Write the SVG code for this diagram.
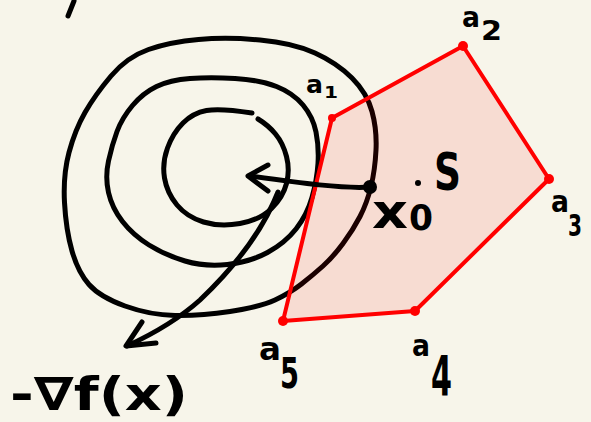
<svg xmlns="http://www.w3.org/2000/svg" width="591" height="422" viewBox="0 0 591 422">
<style>
.ink{fill:none;stroke:#000;stroke-width:5;stroke-linecap:round;stroke-linejoin:round}
.red{fill:none;stroke:#ff0000;stroke-width:4;stroke-linejoin:round}
.vtx{fill:#ff0000}
.lbl{font-family:"DejaVu Sans",sans-serif;font-weight:bold;fill:#000}
</style>
<rect width="591" height="422" fill="#f7f5ea"/>
<g id="fragment">
<path class="ink" d="M 74,1 L 68,16" stroke-width="6"/>
</g>
<g id="contours">
<path class="ink" d="M 148.5,49.5 Q 170,42 198.5,39.5 Q 227,37 260,40 Q 293,43 315,53 Q 337,63 352,78 Q 367,93 372,111.5 Q 377,130 376,150 Q 375,170 371,186.5 Q 367,203 360,216.5 Q 353,230 343,243.5 Q 333,257 323,266 Q 313,275 301.5,284 Q 290,293 275,300 Q 260,307 230,311.5 Q 200,316 175,315.5 Q 150,315 125,306 Q 100,297 89,284.5 Q 78,272 72,251 Q 66,230 64.5,202.5 Q 63,175 69,152.5 Q 75,130 85,112.5 Q 95,95 111,76 Q 127,57 148.5,49.5"/>
<path class="ink" d="M 190,78.5 Q 210,77 235,78.5 Q 260,80 276.5,86.5 Q 293,93 303,105 Q 313,117 316,132 Q 319,147 318,163.5 Q 317,180 312,197.5 Q 307,215 296,229 Q 285,243 267.5,252.5 Q 250,262 227.5,264.5 Q 205,267 185,261 Q 165,255 149,245 Q 133,235 122.5,221.5 Q 112,208 108.5,192.5 Q 105,177 108.5,161 Q 112,145 117,131.5 Q 122,118 132.5,105.5 Q 143,93 156.5,86.5 Q 170,80 190,78.5"/>
<path class="ink" d="M 252,113 Q 220,108 206.5,110.5 Q 193,113 183,123 Q 173,133 167.5,148 Q 162,163 164.5,178 Q 167,193 177,205 Q 187,217 203.5,222 Q 220,227 240,223.5 Q 260,220 271.5,208.5 Q 283,197 286.5,183.5 Q 290,170 286.5,156.5 Q 283,143 275.5,134 Q 268,125 258,119"/>
</g>
<g id="S">
<polygon points="332,118 463,46 549,179 415,311 283,321" fill="#ff0000" fill-opacity="0.1" stroke="#ff0000" stroke-width="4" stroke-linejoin="round"/>
<circle class="vtx" cx="332" cy="118" r="4"/>
<circle class="vtx" cx="463" cy="46" r="5"/>
<circle class="vtx" cx="549" cy="179" r="5"/>
<circle class="vtx" cx="415" cy="311" r="5"/>
<circle class="vtx" cx="283" cy="321" r="5"/>
</g>
<g id="connectors">
<path class="ink" d="M 370,187 C 345,189 300,183 250,176"/>
<path class="ink" d="M 268,165 L 248,176 L 268,191"/>
<path class="ink" d="M 278,192 C 265,225 240,262 200,300 C 180,318 155,333 127,346"/>
<path class="ink" d="M 142,322 L 126,346 L 156,343"/>
</g>
<g id="x0">
<circle cx="370" cy="187" r="7" fill="#000"/>
<circle cx="418" cy="183" r="3" fill="#000"/>
<text class="lbl" x="372" y="228" font-size="48" textLength="36" lengthAdjust="spacingAndGlyphs">x</text>
<text class="lbl" x="409" y="230" font-size="36" textLength="24" lengthAdjust="spacingAndGlyphs">0</text>
</g>
<g id="labels">
<text class="lbl" x="434" y="190" font-size="52" textLength="27" lengthAdjust="spacingAndGlyphs">S</text>
<text class="lbl" x="306" y="93" font-size="24" textLength="17" lengthAdjust="spacingAndGlyphs">a</text>
<text class="lbl" x="324" y="98" font-size="16" textLength="14" lengthAdjust="spacingAndGlyphs">1</text>
<text class="lbl" x="462" y="27" font-size="28" textLength="18" lengthAdjust="spacingAndGlyphs">a</text>
<text class="lbl" x="481" y="40" font-size="26" textLength="21" lengthAdjust="spacingAndGlyphs">2</text>
<text class="lbl" x="551" y="212" font-size="30" textLength="18" lengthAdjust="spacingAndGlyphs">a</text>
<text class="lbl" x="568" y="236" font-size="30" textLength="14" lengthAdjust="spacingAndGlyphs">3</text>
<text class="lbl" x="412" y="356" font-size="30" textLength="18" lengthAdjust="spacingAndGlyphs">a</text>
<text class="lbl" x="431" y="395" font-size="56" textLength="21" lengthAdjust="spacingAndGlyphs">4</text>
<text class="lbl" x="259" y="360" font-size="32" textLength="22" lengthAdjust="spacingAndGlyphs">a</text>
<text class="lbl" x="280" y="388" font-size="42" textLength="19" lengthAdjust="spacingAndGlyphs">5</text>
<text class="lbl" x="10" y="410" font-size="46" textLength="178" lengthAdjust="spacingAndGlyphs">-∇f(x)</text>
</g>
</svg>
